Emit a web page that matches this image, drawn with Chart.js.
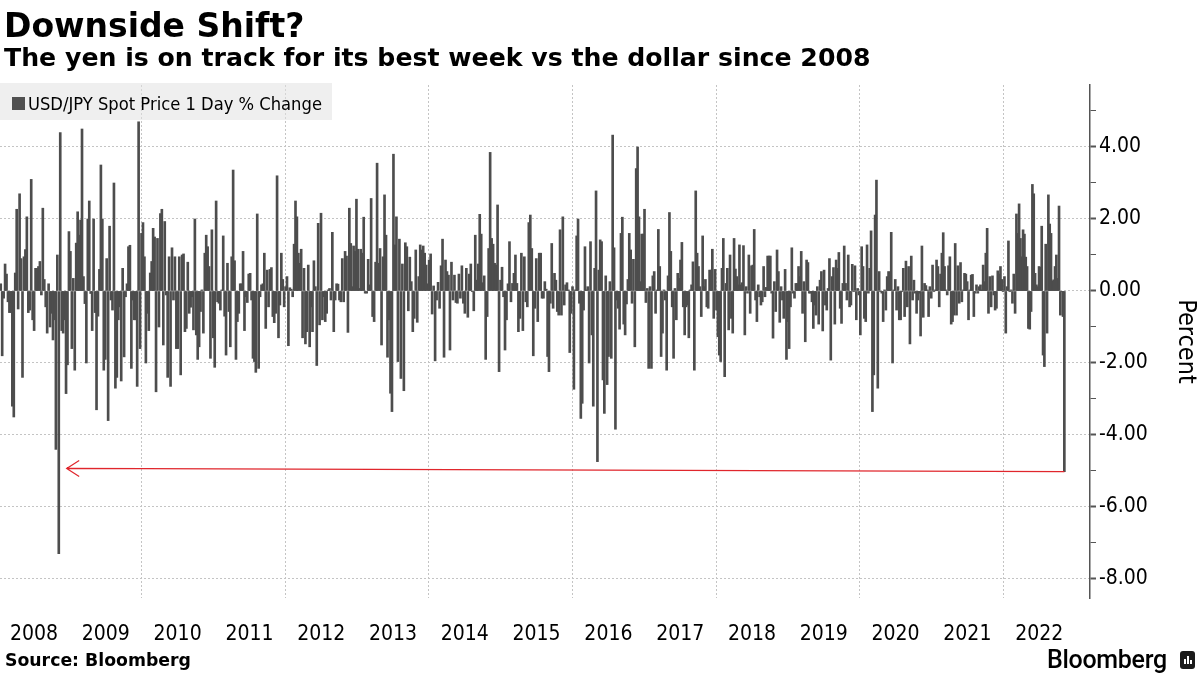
<!DOCTYPE html>
<html>
<head>
<meta charset="utf-8">
<script src="https://cdn.jsdelivr.net/npm/chart.js@4.4.1/dist/chart.umd.min.js"></script>
<style>
  body { margin: 0; background: #fff; }
  #wrap { position: relative; width: 1200px; height: 675px; overflow: hidden; font-family: 'DejaVu Sans', sans-serif; color: #000; }
  #chart { position: absolute; left: 0; top: 0; }
  .title { position: absolute; left: 4px; top: 9px; font-weight: bold; font-size: 33px; line-height: 33px; white-space: nowrap; }
  .subtitle { position: absolute; left: 4px; top: 45px; font-weight: bold; font-size: 25.2px; line-height: 25px; white-space: nowrap; }
  .legend { position: absolute; left: 0; top: 83px; width: 332px; height: 37px; background: rgba(226, 226, 226, 0.55); }
  .legend .swatch { position: absolute; left: 12px; top: 14px; width: 13px; height: 13px; background: #505050; }
  .legend .label { position: absolute; left: 28px; top: 12px; font-family: 'DejaVu Sans Condensed', 'DejaVu Sans', sans-serif; font-size: 18.2px; line-height: 18px; white-space: nowrap; }
  .source { position: absolute; left: 5px; top: 652px; font-weight: bold; font-size: 17.3px; line-height: 17.5px; white-space: nowrap; }
  .brand { position: absolute; left: 1047px; top: 647px; font-family: Roboto, sans-serif; font-weight: 500; font-size: 25px; line-height: 25px; letter-spacing: -0.3px; white-space: nowrap; }
  .logo { position: absolute; left: 1180px; top: 651px; width: 15px; height: 18px; background: #1b1b1b; border-radius: 3px; }
  .logo span { position: absolute; bottom: 5px; width: 2px; background: #fff; }
</style>
</head>
<body>
<div id="wrap">
  <canvas id="chart" width="1200" height="675"></canvas>
  <div class="title">Downside Shift?</div>
  <div class="subtitle">The yen is on track for its best week vs the dollar since 2008</div>
  <div class="legend"><div class="swatch"></div><div class="label" id="legend-label"></div></div>
  <div class="source">Source: Bloomberg</div>
  <div class="brand">Bloomberg</div>
  <div class="logo"><span style="left:4px;height:5px"></span><span style="left:7px;height:8px"></span><span style="left:10px;height:4px"></span></div>
</div>
<script>
const seriesLabel = 'USD/JPY Spot Price 1 Day % Change';
const yearLabels = [2008, 2009, 2010, 2011, 2012, 2013, 2014, 2015, 2016, 2017, 2018, 2019, 2020, 2021, 2022];
const gridYears = [2010, 2012, 2014, 2016, 2018, 2020, 2022];

// Weekly readings (percent), in blocks; each block covers one date span (decimal years)
const spans = [
  [2008.026, 2010.533],
  [2010.533, 2013.040],
  [2013.040, 2015.547],
  [2015.547, 2018.054],
  [2018.054, 2020.561],
  [2020.561, 2022.860],
];

const wk2008 = [0.2, -1.8, -0.2, 0.75, 0.47, -0.3, -0.6, -0.6, -3.2, -3.5, 0.5, 2.27, -0.5, 2.7, 0.9, -2.4, 0.95, 1.15, 2.06, -0.6,
  -0.53, 3.1, -0.8, -1.1, 0.63, 0.63, 0.68, 0.82, -0.11, 2.3, 0.32, -0.44, -1.17, 0.2, -1.0, -0.62, -1.36, -0.8, -4.4, 1.0,
  -7.3, 4.4, -1.1, -1.17, -0.8, -2.85, -2.05, 1.65, 1.1, -1.6, 0.35, -2.2, 1.33, 2.2, 1.55, 1.97, 4.5, 0.4, -0.35, -2.0,
  2.0, 2.5, -0.07, -1.1, 2.0, -0.6, -3.3, -0.7, 0.6, 3.5, 2.0, -2.2, -1.9, 0.9, -3.6, 1.8, -0.25, -0.53, 3.0, -2.7,
  -2.4, -0.8, -0.44, -2.5, 0.63, -1.83, -0.16, 0.2, 1.23, 1.27, -2.15, -0.25, -0.8, -0.8, -2.65, 4.7, -1.6, 1.6, 1.9, 0.95,
  -2.0, -0.62, -1.1, 0.5, 0.82, 1.74, 1.5, -2.8, 1.46, -1.0, 2.15, 2.27, -1.5, 1.93, -0.11, -2.4, 0.95, -2.65, 1.2, -0.25,
  0.95, -1.6, -1.6, 0.95];

const wk2010 = [-2.33, 1.0, 1.03, -1.13, -1.04, 0.8, -0.62, -0.45, -0.16, -1.08, 2.0, -1.22, -1.9, -1.55, -0.57, 0.03, -1.17, 1.05, 1.55, 1.23,
  0.68, -1.87, 1.7, -1.3, -2.12, 2.5, -0.3, -0.34, -0.53, 0.03, 1.53, -0.7, -1.78, 0.77, -0.57, -1.55, 0.95, 3.36, 0.84, -1.9,
  -0.85, -0.62, 0.2, 0.2, 1.1, -1.1, -0.16, -0.32, 0.47, 0.49, -0.25, -1.87, -1.96, -2.26, 2.14, -2.15, -0.16, 0.17, 0.2, 1.05,
  -1.04, 0.58, -0.44, 0.6, 0.65, -0.71, -0.88, -0.62, 3.2, -1.3, -0.39, 1.05, 0.32, -0.44, 0.12, 0.4, -1.52, 0.09, 0.05, -0.16,
  1.3, 2.5, 2.06, 1.05, 0.77, 1.16, -1.3, 0.63, -1.47, -1.13, 0.72, -1.55, -0.44, -1.13, 0.84, 0.12, -2.07, 1.88, -0.94, 2.16,
  -0.8, -0.16, -0.85, -0.62, 0.03, 0.07, -0.25, 1.63, -1.13, -0.25, 0.2, 0.19, -0.25, -0.3, 0.9, -0.3, 1.1, 0.97, -1.15, 2.3,
  1.32, 0.12, 1.25, 1.1, 2.55, 1.16, 0.07];

const wk2013 = [1.16, 1.05, 2.05, -0.06, -0.06, 0.88, 0.17, 2.57, -0.71, -0.85, 0.8, 3.55, 0.77, 1.18, -1.5, 0.95, 2.67, 1.55, -1.84, -0.8,
  -2.84, -3.35, 3.8, 1.28, 2.06, -1.96, 1.44, -2.43, 0.75, -2.77, 1.34, 1.23, -0.55, 0.94, 0.26, -1.13, -0.76, 1.14, -0.87, 0.4,
  1.28, 1.14, 1.25, 1.05, 0.72, 0.2, 0.86, 1.03, -0.64, 0.14, -1.94, -0.25, 0.24, -0.48, 0.7, 1.44, -1.84, 0.86, 0.54, 0.44,
  -1.64, 0.8, -0.25, 0.44, -0.32, -0.34, 0.47, -0.2, 0.7, -0.34, -0.62, 0.63, -0.73, 0.47, 0.75, -0.02, -0.55, 1.55, 0.3, 0.75,
  2.13, 1.58, 0.23, 0.42, -1.9, -0.71, 1.18, 3.85, 1.46, 1.3, 0.77, 0.72, 2.39, -2.24, 0.3, 0.66, -0.16, -1.64, -0.8, 0.2,
  1.37, -0.3, 0.21, 0.49, 1.0, 0.21, -1.13, -0.76, 1.05, -1.1, 0.95, -0.3, -0.44, 1.9, 2.11, 1.18, -1.8, -0.48, 0.9, -0.85,
  1.05];

const wk2015 = [1.05, -0.2, -0.2, 0.26, 0.05, -1.82, -2.24, -0.34, 1.32, -0.48, 0.49, 0.3, -0.57, -0.67, 1.7, -0.67, 2.06, -0.39, 0.17, 0.23,
  0.03, -1.71, -0.62, 0.12, -2.73, 0.03, 1.53, 2.0, -0.34, -3.54, -3.12, -0.53, 1.23, 0.03, 0.12, -2.0, 1.37, -1.22, -3.2, 0.63,
  2.78, -4.74, 0.58, 1.42, 1.37, -2.47, -3.4, 0.42, -2.6, -1.82, 0.26, -1.87, 4.33, 1.2, -3.84, -0.25, -0.48, -1.06, 1.6, 2.05,
  -0.92, -1.22, -0.36, 0.32, 1.6, 1.14, -0.34, 0.88, -1.55, 3.4, 4.0, 2.06, 0.26, 1.58, 1.58, 2.27, -0.32, 0.07, -2.15, 0.12,
  -2.15, 0.42, 0.54, -0.62, 0.03, 1.71, 0.68, -1.82, -1.17, 0.03, -0.25, -2.2, 0.42, 2.18, 1.1, -0.44, -1.87, 0.07, -0.8, 0.49,
  0.35, 0.86, 1.35, -0.44, -1.22, -0.44, -0.39, -1.3, 0.03, 0.17, 0.81, -2.2, 2.78, 1.05, 0.68, 0.12, -0.71, 1.53, 0.12, 0.32,
  -0.44, -0.48, 0.58, 0.58, 1.16, -0.76, 0.6, -0.53, -1.27, -1.78];

const wk2018 = [-1.96, 0.63, 1.46, -2.38, 0.21, 0.63, -1.08, 1.0, -0.76, -1.17, 1.46, 0.61, 0.4, 0.17, 1.28, 0.17, 0.23, 1.26, -1.22, 0.12,
  -0.06, 1.0, -0.62, 0.7, 0.72, 1.71, -0.25, -0.85, 0.17, -0.16, -0.39, -0.3, 0.68, -0.16, 0.1, 0.97, 0.97, 0.97, -0.06, -1.31,
  0.26, -0.57, 1.14, 0.54, -0.87, 0.12, -0.25, -0.76, 0.6, -1.9, -0.85, -1.6, -0.44, 1.2, -0.06, -0.2, 0.21, 0.21, 0.68, 0.4,
  1.1, -0.62, 0.26, -1.41, 0.86, 0.79, -0.06, -0.06, -0.3, -1.04, -0.39, -0.67, 0.12, -0.92, 0.3, 0.54, -1.11, 0.58, -0.39, -0.53,
  0.07, 0.9, -1.92, 0.4, 0.65, -0.92, 0.86, 0.63, 1.07, -0.48, -0.9, 0.21, 1.25, 0.21, -0.25, 1.0, -0.44, -0.39, 0.74, -0.02,
  0.7, -0.8, 0.07, -0.11, -1.22, 1.23, 0.68, -0.76, -0.85, 1.28, -0.06, 0.63, 1.67, -3.35, -2.33, 2.11, 3.08, -2.7, 0.54, -0.02,
  -0.06, -0.85, 0.03, -0.53, 0.4, 0.54, 0.53, 1.63, -2.0, 0.03, 0.32, -0.53, 0.12, -0.8];

const wk2020 = [-0.8, -0.02, 0.63, -0.71, 0.83, -0.44, 0.68, -1.47, 0.97, -0.25, 0.3, -0.06, -0.62, -0.25, -0.06, -1.25, 1.25, -0.73, 0.21, 0.15,
  0.03, -0.71, 0.12, -0.2, 0.72, -0.02, 0.03, 0.86, 0.68, -0.44, 0.47, 1.05, 1.62, 0.68, 0.03, -0.11, 0.7, 0.95, -0.92, -0.85,
  -0.67, 1.32, -0.67, 0.7, -0.34, 0.79, -0.3, 0.03, 0.49, 0.47, 0.26, -0.8, 0.03, 0.44, 0.46, -0.71, -0.06, 0.17, -0.06, 0.12,
  0.17, 0.03, 0.72, 0.26, 1.05, 1.74, -0.62, 0.4, -0.44, 0.42, -0.11, -0.53, -0.48, 0.56, 0.47, 0.68, 0.32, -0.02, 0.4, -1.17,
  0.12, 1.39, -0.02, 0.03, -0.34, 0.47, -0.62, 2.14, 1.6, 2.42, 1.46, 0.95, 1.7, 1.58, 0.94, 0.68, -1.04, -1.06, -0.57, 2.96,
  2.7, 0.49, 0.17, 0.12, 0.68, 0.66, 1.8, -1.78, -2.1, 1.3, -1.17, 2.67, 1.86, 1.6, 0.28, 0.31, 0.68, 1.0, 0.35, 2.36,
  -0.67, -0.02, -0.71, -5.02];

// red arrow points back to the last time a move this size happened
const arrowTip = { x: 2008.955, y: -4.93 };

const blocks = [wk2008, wk2010, wk2013, wk2015, wk2018, wk2020];
const points = [];
blocks.forEach((vals, b) => {
  const [t0, t1] = spans[b];
  const step = (t1 - t0) / vals.length;
  vals.forEach((v, i) => points.push({ x: t0 + (i + 0.5) * step, y: v }));
});

document.getElementById('legend-label').textContent = seriesLabel;

const tickFont = { family: "'DejaVu Sans Condensed', 'DejaVu Sans', sans-serif", size: 21 };
const gridGray = '#c4c4c4';

// Draw the red arrow from the last bar back to 2008
const arrowPlugin = {
  id: 'arrow',
  afterDatasetsDraw(chart) {
    const { ctx, scales: { x, y } } = chart;
    const last = points[points.length - 1];
    const x1 = x.getPixelForValue(last.x);
    const y1 = y.getPixelForValue(last.y);
    const x2 = x.getPixelForValue(arrowTip.x);
    const y2 = y.getPixelForValue(arrowTip.y);
    ctx.save();
    ctx.strokeStyle = '#e0262c';
    ctx.lineWidth = 1.2;
    ctx.beginPath();
    ctx.moveTo(x1, y1);
    ctx.lineTo(x2, y2);
    ctx.moveTo(x2 + 12.5, y2 - 8);
    ctx.lineTo(x2, y2);
    ctx.lineTo(x2 + 12.5, y2 + 8);
    ctx.stroke();
    ctx.restore();
  }
};

const chart = new Chart(document.getElementById('chart'), {
  type: 'bar',
  data: {
    datasets: [{
      label: seriesLabel,
      data: points,
      backgroundColor: '#4d4d4d',
      borderWidth: 0,
      barThickness: 2,
    }],
  },
  options: {
    responsive: false,
    animation: false,
    events: [],
    layout: { autoPadding: false, padding: { top: 85, left: 0, right: 0, bottom: 0 } },
    plugins: { legend: { display: false }, tooltip: { enabled: false } },
    scales: {
      x: {
        type: 'linear',
        position: 'bottom',
        offset: false,
        min: 2008.026,
        max: 2023.208,
        afterBuildTicks(scale) {
          const vals = yearLabels.map((y) => y + 0.5).concat(gridYears).sort((a, b) => a - b);
          scale.ticks = vals.map((v) => ({ value: v }));
        },
        afterFit(scale) { scale.height = 77; },
        ticks: {
          autoSkip: false,
          maxRotation: 0,
          padding: 0,
          color: '#000',
          font: tickFont,
          callback: (v) => (Number.isInteger(v) ? '' : String(Math.floor(v))),
        },
        grid: {
          offset: false,
          drawTicks: true,
          tickLength: 24,
          tickColor: 'transparent',
          lineWidth: 1,
          color: (c) => (c.tick && Number.isInteger(c.tick.value) ? gridGray : 'transparent'),
        },
        border: { display: false, dash: [2, 2] },
      },
      y: {
        position: 'right',
        min: -8.528,
        max: 5.722,
        afterFit(scale) { scale.width = 110; },
        ticks: {
          stepSize: 1,
          includeBounds: false,
          padding: 3,
          color: '#000',
          font: tickFont,
          callback: (v) => (v % 2 === 0 ? v.toFixed(2) : ''),
        },
        grid: {
          lineWidth: 1,
          tickLength: 6,
          tickColor: '#555',
          tickBorderDash: [],
          tickWidth: (c) => (c.tick && c.tick.value % 2 === 0 ? 2 : 1),
          color: (c) => (c.tick && c.tick.value % 2 === 0 ? gridGray : 'transparent'),
        },
        border: { display: true, color: '#555', width: 1.5, dash: [2, 2] },
        title: {
          display: true,
          text: 'Percent',
          color: '#000',
          padding: { top: 0, bottom: 0 },
          font: { family: "'DejaVu Sans Condensed', 'DejaVu Sans', sans-serif", size: 25 },
        },
      },
    },
  },
  plugins: [arrowPlugin],
});
</script>
</body>
</html>
